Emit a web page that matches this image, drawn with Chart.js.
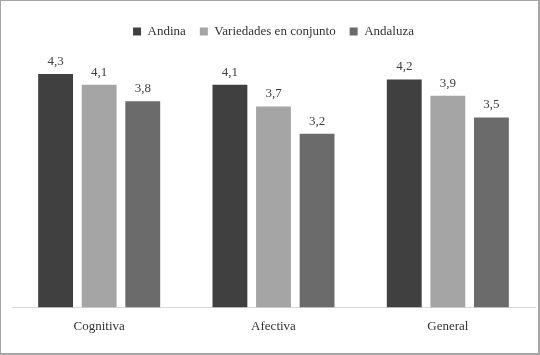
<!DOCTYPE html>
<html>
<head>
<meta charset="utf-8">
<script src="https://cdn.jsdelivr.net/npm/chart.js@4/dist/chart.umd.min.js"></script>
<style>
  html, body { margin: 0; padding: 0; background: #fff; }
  #wrap { position: relative; width: 540px; height: 355px; box-sizing: border-box; border: 1px solid #a6a6a6; border-width: 1px 2px 2px 1px; }
  canvas { display: block; }
</style>
</head>
<body>
<div id="wrap"><canvas id="c"></canvas></div>
<script>
const categories = ["Cognitiva", "Afectiva", "General"];
const seriesNames = ["Andina", "Variedades en conjunto", "Andaluza"];
const andina = [4.3, 4.1, 4.2];
const variedades = [4.1, 3.7, 3.9];
const andaluza = [3.8, 3.2, 3.5];
const colors = ["#404040", "#a5a5a5", "#6b6b6b"];

const FONT = "'Liberation Serif', 'DejaVu Serif', serif";

const valueLabels = {
  id: "valueLabels",
  afterDatasetsDraw(chart) {
    const ctx = chart.ctx;
    ctx.save();
    ctx.font = "13px " + FONT;
    ctx.fillStyle = "#404040";
    ctx.textAlign = "center";
    ctx.textBaseline = "bottom";
    chart.data.datasets.forEach((ds, i) => {
      const meta = chart.getDatasetMeta(i);
      meta.data.forEach((bar, j) => {
        const v = ds.data[j];
        ctx.fillText(v.toFixed(1).replace(".", ","), bar.x, bar.y - 6);
      });
    });
    ctx.restore();
  }
};

const SHRINK = 12;
const legendShrink = {
  id: "legendShrink",
  beforeInit(chart) {
    const lg = chart.legend;
    if (!lg) return;
    const origFit = lg.fit;
    lg.fit = function () {
      origFit.call(this);
      this.height -= SHRINK;
    };
    const origDraw = lg.draw;
    lg.draw = function () {
      this.height += SHRINK;
      this.bottom += SHRINK;
      origDraw.call(this);
      this.height -= SHRINK;
      this.bottom -= SHRINK;
    };
  }
};

new Chart(document.getElementById("c"), {
  type: "bar",
  data: {
    labels: categories,
    datasets: [
      { label: seriesNames[0], data: andina, backgroundColor: colors[0] },
      { label: seriesNames[1], data: variedades, backgroundColor: colors[1] },
      { label: seriesNames[2], data: andaluza, backgroundColor: colors[2] }
    ]
  },
  options: {
    responsive: true,
    maintainAspectRatio: false,
    animation: false,
    layout: { padding: { left: 11, right: 3, top: 10, bottom: 8 } },
    datasets: { bar: { categoryPercentage: 0.75, barPercentage: 0.8 } },
    plugins: {
      legend: {
        position: "top",
        labels: {
          boxWidth: 8, boxHeight: 8, padding: 14,
          color: "#333333",
          font: { family: FONT, size: 13 }
        }
      },
      tooltip: { enabled: false }
    },
    scales: {
      x: {
        grid: { display: false, drawTicks: false },
        border: { display: true, color: "#d9d9d9", width: 1 },
        ticks: { color: "#333333", font: { family: FONT, size: 13 }, padding: 11 }
      },
      y: {
        display: false,
        min: 0, max: 5
      }
    }
  },
  plugins: [legendShrink, valueLabels]
});
</script>
</body>
</html>
